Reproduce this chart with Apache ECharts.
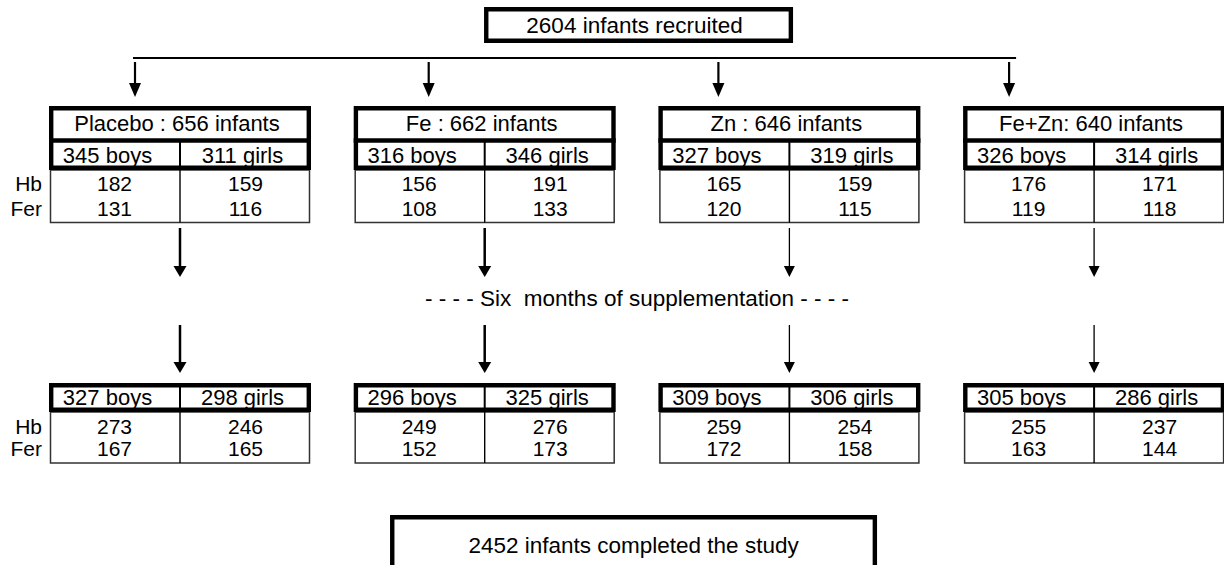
<!DOCTYPE html>
<html>
<head>
<meta charset="utf-8">
<script src="https://cdn.jsdelivr.net/npm/echarts@6/dist/echarts.min.js"></script>
<style>html,body{margin:0;padding:0;background:#fff}#c{width:1224px;height:565px}</style>
</head>
<body>
<div id="c"></div>
<script>
// ---------------- data ----------------
const groups = ['Placebo', 'Fe', 'Zn', 'Fe+Zn'];
const titleSep = [' : ', ' : ', ' : ', ': '];
const groupTotals = [656, 662, 646, 640];
const boysStart = [345, 316, 327, 326];
const girlsStart = [311, 346, 319, 314];
const hbBoysStart = [182, 156, 165, 176];
const hbGirlsStart = [159, 191, 159, 171];
const ferBoysStart = [131, 108, 120, 119];
const ferGirlsStart = [116, 133, 115, 118];
const boysEnd = [327, 296, 309, 305];
const girlsEnd = [298, 325, 306, 286];
const hbBoysEnd = [273, 249, 259, 255];
const hbGirlsEnd = [246, 276, 254, 237];
const ferBoysEnd = [167, 152, 172, 163];
const ferGirlsEnd = [165, 173, 158, 144];
const rowLabels = ['Hb', 'Fer'];
const recruited = 2604;
const completed = 2452;
const recruitedText = recruited + ' infants recruited';
const completedText = completed + ' infants completed the study';
const middleText = '- - - - Six\u00a0 months of supplementation - - - -';

// ---------------- layout (diagram units on hidden axes) ----------------
const W = 1224, H = 565;
const firstCenter = 180, spacing = 304.7;
const layout = {
  half: 131,
  topArrowOffset: [-45, -56, -71, -85],
  topArrowY: [62, 97],
  branchY: 58,
  midArrow1: [228, 277],
  midArrow2: [325, 373],
  midArrowWidth: [2.5, 2.5, 1.3, 1.3],
  midHeadWidth: [13, 13, 11, 11],
  boysDx: -7,
  girlsDx: -3,
  top: {thickTop: 106, titleDiv: 140.5, thickBottom: 170, thinBottom: 222.5, titleY: 123.5, sexY: 155, rows: [183.5, 208.5]},
  bottom: {thickTop: 383, thickBottom: 412, thinBottom: 463, sexY: 397, rows: [426, 448]},
  header: {cx: 1.5, dx: 1.5, half: 154.5, y0: 7, y1: 43, textY: 25},
  footer: {cx: 1.5, dx: -3.5, half: 243.5, y0: 515, y1: 600, textY: 545},
  middleTextY: 298
};
const FONT = '"Liberation Sans", Arial, Helvetica, sans-serif';

function txt(x, y, s, size, align) {
  return {type: 'text', silent: true, style: {x: x, y: y, text: String(s), fill: '#000',
    fontSize: size, fontFamily: FONT, align: align || 'center', verticalAlign: 'middle'}};
}
function line(x1, y1, x2, y2, lw, color) {
  return {type: 'line', silent: true, shape: {x1: x1, y1: y1, x2: x2, y2: y2},
    style: {stroke: color || '#000', lineWidth: lw}};
}
function rect(x, y, w, h, lw, color) {
  return {type: 'rect', silent: true, shape: {x: x, y: y, width: w, height: h},
    style: {fill: 'none', stroke: color || '#000', lineWidth: lw}};
}
function arrow(x, y1, y2, lw, hw, hh) {
  return [
    line(x, y1, x, y2 - hh + 1, lw),
    {type: 'polygon', silent: true, shape: {points: [[x - hw / 2, y2 - hh], [x + hw / 2, y2 - hh], [x, y2]]},
      style: {fill: '#000'}}
  ];
}

function block(children, L, R, cx, Y, b, title, boys, girls, rowsBoys, rowsGirls, withLabels) {
  const tb = Y(b.thickBottom), tt = Y(b.thickTop), bb = Y(b.thinBottom);
  // thin table
  children.push(rect(L + 1.5, tb, R - L - 3, bb - tb, 1.5, '#333'));
  children.push(line(cx, tb, cx, bb, 1.4));
  // thick frame
  children.push(rect(L + 2.2, tt + 2.2, R - L - 4.4, tb - tt - 4.4, 4.4));
  const sexTop = title ? Y(b.titleDiv) : tt;
  if (title) children.push(line(L, Y(b.titleDiv), R, Y(b.titleDiv), 4.4));
  children.push(line(cx, sexTop, cx, tb, 2));
  if (title) children.push(txt(cx - 3, Y(b.titleY), title, 22));
  children.push(txt((L + cx) / 2 + layout.boysDx, Y(b.sexY), boys + ' boys', 22));
  children.push(txt((R + cx) / 2 + layout.girlsDx, Y(b.sexY), girls + ' girls', 22));
  for (let r = 0; r < rowLabels.length; r++) {
    children.push(txt((L + cx) / 2, Y(b.rows[r]), rowsBoys[r], 21));
    children.push(txt((R + cx) / 2, Y(b.rows[r]), rowsGirls[r], 21));
    if (withLabels) children.push(txt(L - 7, Y(b.rows[r]), rowLabels[r], 21, 'right'));
  }
}

const chart = echarts.init(document.getElementById('c'), null, {renderer: 'svg'});
chart.setOption({
  animation: false,
  backgroundColor: '#fff',
  grid: {left: 0, right: 0, top: 0, bottom: 0},
  xAxis: {type: 'value', min: -firstCenter / spacing, max: (W - firstCenter) / spacing, show: false},
  yAxis: {type: 'value', min: 0, max: H, inverse: true, show: false},
  series: [
    {
      type: 'custom',
      silent: true,
      clip: false,
      data: groups.map((g, i) => [i]),
      renderItem: function (params, api) {
        const i = api.value(0);
        const cx = api.coord([i, 0])[0];
        const Y = v => api.coord([i, v])[1];
        const L = cx - layout.half, R = cx + layout.half;
        const children = [];
        const ax = cx + layout.topArrowOffset[i];
        children.push(...arrow(ax, Y(layout.topArrowY[0]), Y(layout.topArrowY[1]), 2.2, 12, 14));
        block(children, L, R, cx, Y, layout.top, groups[i] + titleSep[i] + groupTotals[i] + ' infants',
          boysStart[i], girlsStart[i], [hbBoysStart[i], ferBoysStart[i]], [hbGirlsStart[i], ferGirlsStart[i]], i === 0);
        const lw = layout.midArrowWidth[i], hw = layout.midHeadWidth[i];
        children.push(...arrow(cx, Y(layout.midArrow1[0]), Y(layout.midArrow1[1]), lw, hw, 11));
        children.push(...arrow(cx, Y(layout.midArrow2[0]), Y(layout.midArrow2[1]), lw, hw, 11));
        block(children, L, R, cx, Y, layout.bottom, null,
          boysEnd[i], girlsEnd[i], [hbBoysEnd[i], ferBoysEnd[i]], [hbGirlsEnd[i], ferGirlsEnd[i]], i === 0);
        return {type: 'group', children: children};
      }
    },
    {
      type: 'custom',
      silent: true,
      clip: false,
      data: [[0]],
      renderItem: function (params, api) {
        const Y = v => api.coord([0, v])[1];
        const X = i => api.coord([i, 0])[0];
        const children = [];
        // branch line
        const x0 = X(0) + layout.topArrowOffset[0] - 2;
        const x1 = X(groups.length - 1) + layout.topArrowOffset[groups.length - 1] + 7;
        children.push(line(x0, Y(layout.branchY), x1, Y(layout.branchY), 1.8));
        // header
        const h = layout.header;
        const hx = X(h.cx) + h.dx;
        children.push(rect(hx - h.half + 2.2, Y(h.y0) + 2.2, 2 * h.half - 4.4, Y(h.y1) - Y(h.y0) - 4.4, 4.4));
        children.push(txt(hx - 4, Y(h.textY), recruitedText, 22.5));
        // middle text
        children.push(txt(X(1.5), Y(layout.middleTextY), middleText, 22.5));
        // footer
        const f = layout.footer;
        const fx = X(f.cx) + f.dx;
        children.push(rect(fx - f.half + 2.2, Y(f.y0) + 2.2, 2 * f.half - 4.4, Y(f.y1) - Y(f.y0), 4.4));
        children.push(txt(fx, Y(f.textY), completedText, 22.5));
        return {type: 'group', children: children};
      }
    }
  ]
});
</script>
</body>
</html>
